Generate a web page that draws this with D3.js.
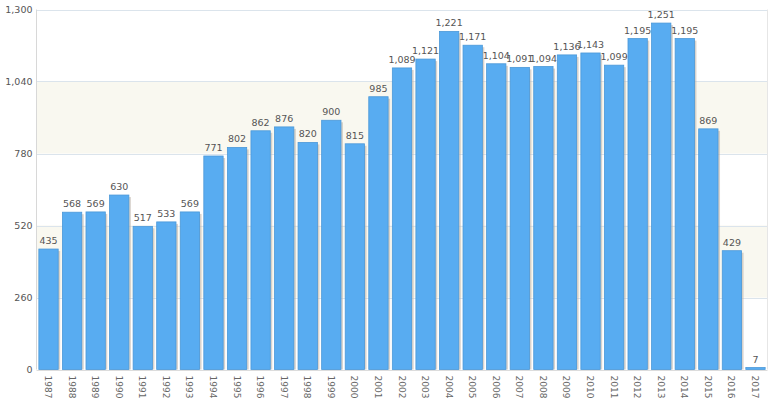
<!DOCTYPE html>
<html><head><meta charset="utf-8">
<script src="https://cdn.jsdelivr.net/npm/d3@7"></script>
<style>body{margin:0;background:#fff}svg{display:block;font-family:"DejaVu Sans",Verdana,sans-serif}</style>
</head><body><svg id="c" width="778" height="403"></svg>
<script>
const years = ["1987","1988","1989","1990","1991","1992","1993","1994","1995","1996","1997","1998","1999","2000","2001","2002","2003","2004","2005","2006","2007","2008","2009","2010","2011","2012","2013","2014","2015","2016","2017"];
const values = [435,568,569,630,517,533,569,771,802,862,876,820,900,815,985,1089,1121,1221,1171,1104,1091,1094,1136,1143,1099,1195,1251,1195,869,429,7];
const yTicks = [0,260,520,780,1040,1300];
const bands = [[260,520],[780,1040]];

const svg = d3.select("#c");
const L=36.5, R=767.5, T=9.5, B=369.5;
const x = d3.scaleBand().domain(years).range([L,R]).paddingInner(0.18).paddingOuter(0.1);
const y = d3.scaleLinear().domain([0,1300]).range([B,T]);
const fmt = d3.format(",");

// bands
svg.append("g").selectAll("rect").data(bands).join("rect")
  .attr("x",L).attr("width",R-L)
  .attr("y",d=>y(d[1])).attr("height",d=>y(d[0])-y(d[1]))
  .attr("fill","#f9f8f0");

// grid lines
svg.append("g").selectAll("line").data(yTicks).join("line")
  .attr("x1",L).attr("x2",R).attr("y1",d=>Math.round(y(d))+0.5).attr("y2",d=>Math.round(y(d))+0.5)
  .attr("stroke",d=>d===0?"#dcdcdc":"#dbe4ec").attr("stroke-width",1);

// frame
svg.append("line").attr("x1",L).attr("x2",L).attr("y1",T).attr("y2",B).attr("stroke","#d8d8d8");
svg.append("line").attr("x1",R).attr("x2",R).attr("y1",T).attr("y2",B).attr("stroke","#e6e6e6");

// y labels
svg.append("g").selectAll("text").data(yTicks).join("text")
  .attr("x",L-4).attr("y",d=>y(d)).attr("dy","0.35em").attr("text-anchor","end")
  .attr("font-size","9.5px").attr("fill","#555").text(fmt);

// bar shadows
svg.append("g").selectAll("rect").data(values).join("rect")
  .attr("x",(d,i)=>x(years[i])+2).attr("y",d=>y(d)+2)
  .attr("width",x.bandwidth()).attr("height",d=>Math.max(0,B-y(d)-2))
  .attr("fill","#b9aea4").attr("opacity",0.55);

// bars
svg.append("g").selectAll("rect").data(values).join("rect")
  .attr("x",(d,i)=>x(years[i])).attr("y",d=>y(d))
  .attr("width",x.bandwidth()).attr("height",d=>Math.max(1,B-y(d)))
  .attr("fill","#58acf1").attr("stroke","#4b98d8").attr("stroke-width",0.8);

// value labels
svg.append("g").selectAll("text").data(values).join("text")
  .attr("x",(d,i)=>x(years[i])+x.bandwidth()/2).attr("y",d=>y(d)-5)
  .attr("text-anchor","middle").attr("font-size","9.5px").attr("fill","#555").text(fmt);

// x labels
svg.append("g").selectAll("text").data(years).join("text")
  .attr("transform",d=>`translate(${x(d)+x.bandwidth()/2-3.5},${B+6}) rotate(90)`)
  .attr("text-anchor","start").attr("font-size","9px").attr("fill","#666").text(d=>d);
</script></body></html>
